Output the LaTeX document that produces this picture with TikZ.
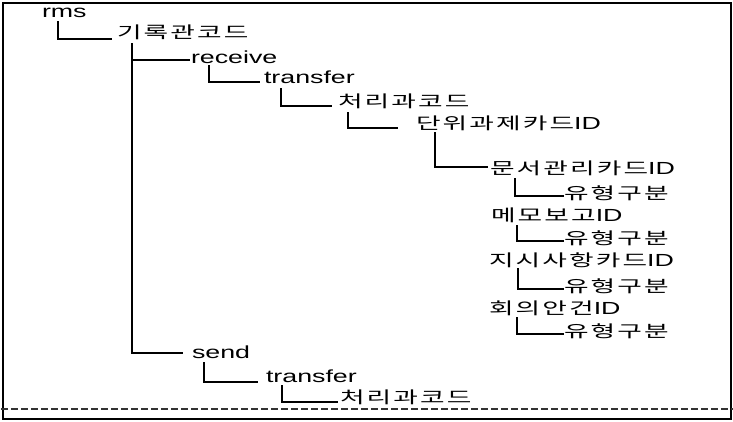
\documentclass[tikz,border=0pt]{standalone}
\usepackage{fontspec}
\usepackage{graphicx}
\setmainfont{Liberation Sans}
\newfontfamily\kr[LetterSpace=8]{Noto Sans CJK KR}
\usetikzlibrary{calc}
\newcommand\Wide[1]{{\fontsize{17.5}{19}\selectfont\scalebox{1.53}[1]{#1}}}
\newcommand\Kor[1]{{\fontsize{16.5}{18}\selectfont\scalebox{1.62}[1]{\kr #1}}}
\begin{document}
\begin{tikzpicture}[x=1pt,y=-1pt,
  lbl/.style={anchor=base west, inner sep=0pt, outer sep=0pt},
  tree/.style={draw=black, line width=1.1pt},
  frame/.style={draw=black, line width=1.5pt},
  sep/.style={draw=black!80, line width=1.1pt, dash pattern=on 7.3pt off 2.7pt}]
\useasboundingbox[fill=white] (0,0) rectangle (733,421);
\draw[frame] (3,3) rectangle (731,419);
\draw[sep] (1,409) -- (733,409);

\path (42,17)  node[lbl] (rms)  {\Wide{rms}};
\path (117,38) node[lbl] (c1)   {\Kor{기록관코드}};
\path (191,63) node[lbl] (recv) {\Wide{receive}};
\path (264,83) node[lbl] (tr1)  {\Wide{transfer}};
\path (338,107) node[lbl] (p1)  {\Kor{처리과코드}};
\path (416,129) node[lbl] (u)   {\Kor{단위과제카드}\Wide{ID}};
\path (490,174) node[lbl] (d1)  {\Kor{문서관리카드}\Wide{ID}};
\path (564,199) node[lbl] (t1)  {\Kor{유형구분}};
\path (491,221) node[lbl] (m)   {\Kor{메모보고}\Wide{ID}};
\path (564,244) node[lbl] (t2)  {\Kor{유형구분}};
\path (489,266) node[lbl] (j)   {\Kor{지시사항카드}\Wide{ID}};
\path (564,292) node[lbl] (t3)  {\Kor{유형구분}};
\path (489,314) node[lbl] (h)   {\Kor{회의안건}\Wide{ID}};
\path (564,337) node[lbl] (t4)  {\Kor{유형구분}};
\path (192,358) node[lbl] (send) {\Wide{send}};
\path (266,382) node[lbl] (tr2) {\Wide{transfer}};
\path (340,403) node[lbl] (p2)  {\Kor{처리과코드}};

\draw[tree] ($(rms.base west)+(16,4)$) |- ($(c1.base west)+(-5,1)$);
\draw[tree] ($(c1.base west)+(15,5)$) |- ($(recv.base west)+(-1,-3)$);
\draw[tree] ($(c1.base west)+(15,5)$) |- ($(send.base west)+(-9,-5)$);
\draw[tree] ($(recv.base west)+(18,2)$) |- ($(tr1.base west)+(-4,-1)$);
\draw[tree] ($(tr1.base west)+(17,5)$) |- ($(p1.base west)+(-6,-1)$);
\draw[tree] ($(p1.base west)+(10,5)$) |- ($(u.base west)+(-18,-1)$);
\draw[tree] ($(u.base west)+(19,3)$) |- ($(d1.base west)+(-2,-7)$);
\draw[tree] ($(d1.base west)+(25,4)$) |- ($(t1.base west)+(0,-3)$);
\draw[tree] ($(m.base west)+(26,4)$) |- ($(t2.base west)+(0,-3)$);
\draw[tree] ($(j.base west)+(29,2)$) |- ($(t3.base west)+(0,-3)$);
\draw[tree] ($(h.base west)+(28,3)$) |- ($(t4.base west)+(0,-3)$);
\draw[tree] ($(send.base west)+(12,4)$) |- ($(tr2.base west)+(-8,0)$);
\draw[tree] ($(tr2.base west)+(16,3)$) |- ($(p2.base west)+(-2,-1)$);
\end{tikzpicture}
\end{document}
